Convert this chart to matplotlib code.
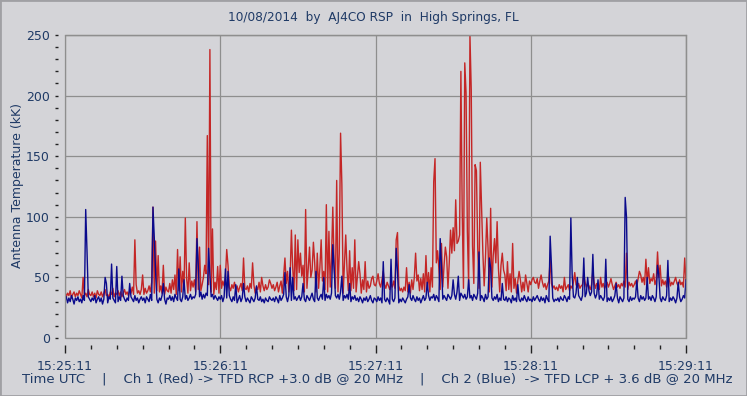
import numpy as np
import matplotlib
matplotlib.use("Agg")
import matplotlib.pyplot as plt
from matplotlib.patches import Rectangle
from matplotlib.ticker import MultipleLocator, FixedLocator, FixedFormatter

# samples every 0.5 s, from 15:25:11 to 15:29:11
rate = 2
tick_secs = [0, 60, 120, 180, 240]
tick_labels = ['15:25:11', '15:26:11', '15:27:11', '15:28:11', '15:29:11']

# Ch 1 (red) background level, 20 samples (10 s) per row
red_base = [
    38,34,37,35,39,33,36,38,34,37, 35,39,36,33,38,35,37,34,40,36,
    35,38,34,37,33,39,36,35,38,34, 37,40,35,36,33,38,36,41,34,37,
    36,39,35,38,34,37,40,36,38,35, 39,37,42,36,38,44,37,39,36,40,
    38,36,41,37,39,43,38,46,40,37, 44,39,41,38,43,37,40,36,42,39,
    38,45,37,48,40,52,36,47,39,50, 38,55,41,40,49,37,53,39,47,42,
    48,38,51,40,57,39,44,50,37,53, 41,44,52,38,49,36,46,40,48,37,
    44,41,47,43,50,40,45,42,39,44, 41,46,40,43,38,42,45,39,48,41,
    40,43,38,45,41,39,44,37,42,40, 46,38,41,43,39,44,40,42,38,45,
    41,44,39,42,46,38,43,47,37,52, 40,45,55,38,50,41,58,39,52,40,
    42,54,39,51,60,38,53,41,57,39, 50,56,40,62,38,53,41,58,39,47,
    55,40,63,38,58,42,66,39,60,41, 64,38,70,40,59,37,62,41,56,39,
    52,39,58,41,54,38,50,40,53,37, 48,40,50,38,47,41,43,49,38,44,
    43,47,40,45,42,48,39,44,41,46, 43,40,45,42,47,41,44,40,43,39,
    41,38,42,39,44,38,46,37,48,40, 50,38,47,52,39,49,40,53,38,50,
    40,54,38,58,42,55,39,62,41,57, 40,64,42,60,39,67,41,62,40,70,
    42,72,45,78,40,85,44,90,41,82, 46,88,43,80,40,76,45,84,42,75,
    41,72,39,70,43,66,40,74,38,64, 42,68,39,62,41,58,38,60,40,56,
    52,39,56,40,53,38,50,41,49,37, 47,40,48,38,46,39,41,45,38,47,
    44,48,42,46,45,49,41,47,43,46, 42,45,40,44,47,42,45,41,43,40,
    42,39,44,41,43,38,45,40,42,44, 39,43,41,46,40,44,42,45,41,43,
    44,41,46,42,45,43,40,44,42,46, 41,45,43,40,44,42,45,41,43,46,
    42,45,41,44,40,43,46,42,44,41, 45,43,47,42,44,40,46,43,45,42,
    44,47,43,49,45,52,46,50,44,48, 46,51,45,49,47,53,44,48,45,50,
    46,43,48,44,47,42,45,49,43,46, 44,47,42,45,43,48,44,46,42,45,
    47,
]

# Ch 1 (red) bursts: (seconds after 15:25:11, kK)
red_bursts = [
    (7, 50), (27, 81), (30, 52), (34, 108), (35, 80), (36, 68), (38, 60),
    (43.5, 73), (44.5, 67), (46.5, 99), (48, 62), (51, 96), (52, 75),
    (54, 60), (55, 167), (56, 238), (57, 90), (59, 59), (60, 60),
    (62.5, 73), (63, 60), (69, 66), (72.5, 62), (76, 50), (79, 48),
    (85, 66), (87.5, 89), (89, 85), (90, 81), (91, 70), (93, 106),
    (94.5, 75), (96, 79), (97.5, 70), (99, 81), (101, 110), (102, 88),
    (103.5, 108), (105, 130), (106.5, 169), (107, 127), (108.5, 85),
    (110, 72), (112, 81), (113.5, 63), (116, 63), (119, 51), (121, 53),
    (123, 55), (128, 81), (128.5, 87), (132, 58), (135.5, 70), (139.5, 68),
    (142.5, 129), (143, 148), (144, 72), (145.5, 78), (147, 75), (149, 89),
    (150, 91), (151, 114), (152, 80), (153, 220), (153.5, 107), (154.5, 227),
    (155, 202), (156.5, 250), (157, 205), (158.5, 143), (159, 138),
    (160.5, 145), (161, 108), (163, 99), (164.5, 107), (166, 82), (167, 96),
    (169, 70), (171, 63), (173, 78), (175.5, 55), (178, 52), (181, 50),
    (184, 52), (187.5, 65), (193, 50), (197, 54), (200.5, 53), (204, 55),
    (207, 50), (211, 49), (217, 70), (222, 55), (224.5, 65), (225.5, 58),
    (229, 71), (230, 60), (233, 52), (236, 50), (239.5, 66),
]

# Ch 2 (blue) background level
blue_base = [
    31,34,29,33,30,35,32,28,33,31, 34,30,32,29,35,31,33,30,34,32,
    30,33,31,35,29,32,34,30,33,28, 32,35,31,29,34,32,30,33,31,29,
    33,30,34,31,29,35,32,30,33,31, 28,34,32,30,35,31,33,29,32,34,
    31,33,29,34,32,30,36,31,33,30, 34,32,29,33,31,35,30,32,28,33,
    32,35,31,34,30,36,33,31,35,32, 30,34,37,32,35,31,33,36,32,34,
    33,36,31,35,34,38,32,36,33,37, 35,31,38,34,36,32,35,33,31,34,
    32,35,30,34,31,33,29,35,32,30, 34,31,33,29,32,35,30,33,31,34,
    30,33,31,29,34,32,30,33,28,32, 31,34,30,32,29,33,31,30,34,32,
    31,33,30,34,32,29,35,31,33,36, 32,34,30,35,33,31,36,32,34,31,
    33,35,31,34,36,32,30,35,33,31, 34,37,32,30,35,33,31,34,36,32,
    34,31,36,33,35,32,37,34,31,35, 33,36,32,38,34,31,35,33,36,32,
    33,30,34,32,35,31,33,30,34,32, 29,33,31,34,30,32,35,31,29,33,
    32,30,34,31,33,29,35,32,30,33, 31,28,34,32,30,33,31,35,29,32,
    30,33,31,29,32,34,30,33,31,35, 32,30,34,31,33,29,32,35,31,33,
    32,35,31,34,33,36,31,35,33,30, 34,37,32,35,33,31,36,34,32,35,
    33,36,32,38,34,31,37,35,33,36, 32,34,38,33,35,31,36,34,32,37,
    34,31,35,33,30,36,32,34,29,35, 33,31,34,32,36,30,33,31,35,32,
    31,34,30,33,32,29,35,31,33,30, 34,32,30,33,31,35,32,30,34,31,
    32,30,34,31,33,35,32,30,34,31, 33,29,35,32,30,34,31,33,30,32,
    31,33,30,34,32,31,35,33,30,34, 32,36,31,34,33,37,32,35,33,31,
    35,38,34,37,36,39,35,38,34,37, 33,36,34,32,35,33,31,34,32,30,
    33,31,34,30,32,35,31,33,29,34, 32,30,33,31,35,32,30,34,31,33,
    32,34,31,33,30,35,32,34,31,33, 36,32,34,31,35,33,30,34,32,31,
    33,30,34,32,31,35,32,30,33,31, 34,32,29,33,31,34,30,32,35,33,
    36,
]

# Ch 2 (blue) bursts
blue_bursts = [
    (8, 106), (8.5, 72), (15.5, 50), (16, 45), (18, 61), (20, 59), (22, 51),
    (25, 45), (34, 108), (34.5, 83), (35, 55), (38, 45), (44, 57), (46, 48),
    (51, 82), (51.5, 60), (55.5, 74), (56, 52), (62, 57), (63, 55), (66, 44),
    (69, 45), (74, 43), (85, 54), (87, 58), (88, 50), (92, 45), (97, 55),
    (100, 50), (103.5, 77), (104, 58), (107, 51), (110, 45), (123, 63),
    (126, 65), (128, 74), (128.5, 55), (133, 44), (140, 46), (145, 82),
    (145.5, 60), (150, 48), (152, 51), (156, 48), (160, 71), (164, 66),
    (164.5, 58), (169, 45), (175, 44), (187.5, 84), (188, 60), (195.5, 99),
    (196, 52), (198, 50), (200.5, 66), (202, 50), (204, 69), (206, 48),
    (209, 65), (213, 45), (216.5, 116), (217, 100), (221, 48), (225, 50),
    (229, 60), (229.5, 52), (233, 64), (237, 46), (240, 48),
]


def build(base, bursts):
    y = np.array(base, dtype=float)
    for sec, val in bursts:
        y[int(round(sec * rate))] = val
    return y


red = build(red_base, red_bursts)
blue = build(blue_base, blue_bursts)
t = np.arange(len(red)) / rate

bg = '#d4d4d8'
grid_c = '#8e8e8e'
txt = '#1f3a66'

fig = plt.figure(figsize=(7.47, 3.96), dpi=100, facecolor=bg)
fig.patches.append(Rectangle((0, 0), 1, 1, transform=fig.transFigure,
                             fill=False, edgecolor='#a0a0a4', lw=2))
ax = fig.add_axes([65 / 747, 1 - 338 / 396, 621 / 747, 303 / 396])
ax.set_facecolor(bg)

ax.plot(t, red, color='#c42626', lw=1.0)
ax.plot(t, blue, color='#0a0a8c', lw=1.0)

ax.set_xlim(0, 240)
ax.set_ylim(0, 250)

ax.xaxis.set_major_locator(FixedLocator(tick_secs))
ax.xaxis.set_major_formatter(FixedFormatter(tick_labels))
ax.xaxis.set_minor_locator(MultipleLocator(10))
ax.yaxis.set_major_locator(MultipleLocator(50))
ax.yaxis.set_minor_locator(MultipleLocator(10))
ax.grid(True, which='major', color=grid_c, lw=0.9)
ax.set_axisbelow(True)

for s in ax.spines.values():
    s.set_color(grid_c)
    s.set_linewidth(0.9)
# ticks sit a little away from the frame
ax.spines['bottom'].set_position(('outward', 5))
ax.spines['left'].set_position(('outward', 5))
ax.spines['bottom'].set_color('none')
ax.spines['left'].set_color('none')
ax.add_patch(Rectangle((0, 0), 1, 1, transform=ax.transAxes, fill=False,
                       edgecolor=grid_c, lw=0.9, clip_on=False, zorder=3))

ax.tick_params(axis='x', which='major', length=6, width=1, color='#222222',
               labelsize=9, labelcolor=txt, pad=5)
ax.tick_params(axis='x', which='minor', length=3, width=1, color='#222222')
ax.tick_params(axis='y', which='both', length=2, width=1, color='#222222',
               labelsize=9, labelcolor=txt, pad=4)

fig.text(373 / 747, 1 - 18 / 396, '10/08/2014  by  AJ4CO RSP  in  High Springs, FL',
         ha='center', va='center', fontsize=8.7, color=txt)
fig.text(18 / 747, 1 - 186 / 396, 'Antenna Temperature (kK)', rotation=90,
         ha='center', va='center', fontsize=9, color=txt)
fig.text(377 / 747, 1 - 379 / 396,
         'Time UTC    |    Ch 1 (Red) -> TFD RCP +3.0 dB @ 20 MHz    |    '
         'Ch 2 (Blue)  -> TFD LCP + 3.6 dB @ 20 MHz',
         ha='center', va='center', fontsize=9.5, color=txt)

fig.savefig('out.png', dpi=100, facecolor=bg)
